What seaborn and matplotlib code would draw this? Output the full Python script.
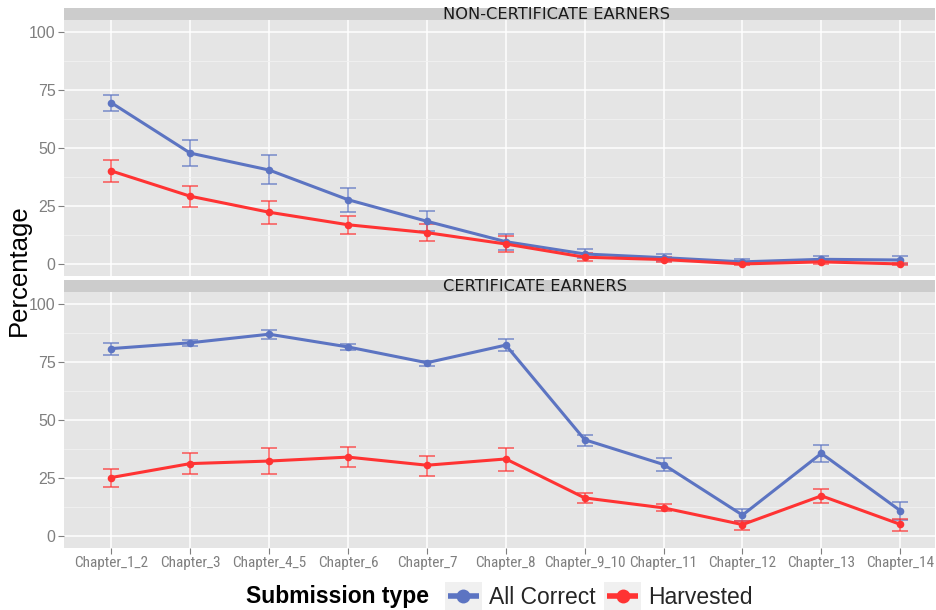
import numpy as np
import pandas as pd
import matplotlib
matplotlib.use("Agg")
import matplotlib.pyplot as plt
import seaborn as sns
from matplotlib import font_manager
from matplotlib.lines import Line2D
from matplotlib.patches import Rectangle
from matplotlib.legend_handler import HandlerBase

chapters = ["Chapter_1_2", "Chapter_3", "Chapter_4_5", "Chapter_6", "Chapter_7",
            "Chapter_8", "Chapter_9_10", "Chapter_11", "Chapter_12", "Chapter_13", "Chapter_14"]
panels = ["NON-CERTIFICATE EARNERS", "CERTIFICATE EARNERS"]
types = ["All Correct", "Harvested"]

# Non-certificate earners
non_correct = [69.5, 47.8, 40.5, 27.7, 18.4, 9.6, 4.3, 2.7, 0.9, 2.0, 1.7]
non_correct_lo = [65.8, 42.4, 34.3, 22.5, 14.1, 6.0, 2.5, 1.3, 0.0, 0.8, 0.0]
non_correct_hi = [73.0, 53.3, 46.8, 32.9, 22.7, 13.1, 6.3, 4.2, 2.2, 3.3, 3.6]
non_harv = [40.1, 29.2, 22.3, 16.9, 13.5, 8.6, 2.9, 1.9, 0.0, 0.9, 0.0]
non_harv_lo = [35.5, 24.4, 17.4, 12.8, 9.9, 5.0, 1.2, 0.9, -0.3, 0.1, -0.3]
non_harv_hi = [44.7, 33.6, 27.2, 20.8, 17.1, 11.9, 4.6, 2.9, 0.5, 1.8, 0.4]

# Certificate earners
cert_correct = [80.8, 83.3, 87.0, 81.5, 74.7, 82.3, 41.5, 30.8, 9.0, 35.6, 10.9]
cert_correct_lo = [78.1, 81.8, 85.1, 80.1, 73.4, 79.7, 38.9, 27.8, 6.5, 31.9, 6.9]
cert_correct_hi = [83.4, 84.5, 89.0, 82.8, 75.4, 84.8, 43.6, 33.8, 11.7, 39.2, 14.7]
cert_harv = [25.2, 31.2, 32.3, 34.0, 30.5, 33.2, 16.4, 12.1, 4.9, 17.3, 5.0]
cert_harv_lo = [21.2, 26.5, 26.9, 29.6, 26.0, 28.0, 14.2, 10.6, 2.4, 14.2, 2.1]
cert_harv_hi = [28.9, 35.8, 37.8, 38.3, 34.6, 38.1, 18.6, 13.9, 6.6, 20.2, 7.4]

yticks = [0, 25, 50, 75, 100]

blue = "#5C74C2"
red = "#FF3333"
palette = {"All Correct": blue, "Harvested": red}

rows = []
series = {
    (panels[0], "All Correct"): (non_correct, non_correct_lo, non_correct_hi),
    (panels[0], "Harvested"): (non_harv, non_harv_lo, non_harv_hi),
    (panels[1], "All Correct"): (cert_correct, cert_correct_lo, cert_correct_hi),
    (panels[1], "Harvested"): (cert_harv, cert_harv_lo, cert_harv_hi),
}
for (p, t), (m, lo, hi) in series.items():
    for c, a, b, d in zip(chapters, m, lo, hi):
        rows.append(dict(panel=p, type=t, chapter=c, pct=a, lo=b, hi=d))
df = pd.DataFrame(rows)

sns.set_theme(style="darkgrid")
names = {f.name for f in font_manager.fontManager.ttflist}
narrow = "Liberation Sans"
for cand in ["Liberation Sans Narrow", "Arial Narrow", "Roboto Condensed",
             "Archivo Narrow", "PT Sans Narrow", "Asap Condensed"]:
    if cand in names:
        narrow = cand
        break
plt.rcParams['font.family'] = ['Liberation Sans', 'DejaVu Sans']

W, H = 936, 610
fig = plt.figure(figsize=(W / 100, H / 100), dpi=100)

def fx(px):
    return px / W

def fy(px):
    return 1 - px / H

left, right = 64, 935
panel_px = [(20, 276, 8), (292, 548, 280)]  # top, bottom, strip top
axes = []
for i, (top, bot, stop) in enumerate(panel_px):
    ax = fig.add_axes([fx(left), fy(bot), fx(right - left), (bot - top) / H])
    axes.append(ax)
    fig.patches.append(Rectangle((fx(left), fy(top)), fx(right - left), (top - stop) / H,
                                 transform=fig.transFigure, facecolor="#CCCCCC",
                                 edgecolor="none", zorder=0))
    fig.text(fx(443), fy((top + stop) / 2 + 0.5), panels[i], ha="left",
             va="center", fontsize=11.7, family=["DejaVu Sans"], color="#1A1A1A")

for i, ax in enumerate(axes):
    sub = df[df.panel == panels[i]]
    ax.set_facecolor("#E5E5E5")
    for t in types:
        s = sub[sub.type == t]
        ax.errorbar(s.chapter, s.pct, yerr=[s.pct - s.lo, s.hi - s.pct], fmt="none",
                    ecolor=palette[t], alpha=0.8, elinewidth=1.1, capsize=5.5,
                    capthick=1.1, zorder=3)
    sns.lineplot(data=sub, x="chapter", y="pct", hue="type", hue_order=types,
                 palette=palette, marker="o", markersize=5.5, markeredgewidth=0,
                 linewidth=2.2, sort=False, legend=False, ax=ax, zorder=4)
    ax.set_xlim(-0.6, 10.44)
    ax.set_ylim(-5.2, 105.2)
    ax.set_yticks(yticks)
    ax.set_yticks([12.5, 37.5, 62.5, 87.5], minor=True)
    ax.grid(which="major", color="white", linewidth=1.1)
    ax.grid(which="minor", axis="y", color="#F2F2F2", linewidth=0.6)
    ax.set_axisbelow(True)
    for sp in ax.spines.values():
        sp.set_visible(False)
    ax.set_xlabel("")
    ax.set_ylabel("")
    ax.tick_params(axis="both", which="major", length=4, width=0.8, color="#7F7F7F",
                   labelcolor="#7F7F7F", pad=2, left=True, bottom=(i == 1))
    ax.tick_params(axis="y", which="minor", length=0)
    for lab in ax.get_yticklabels():
        lab.set_fontsize(11.5)
    if i == 0:
        ax.tick_params(axis="x", labelbottom=False, bottom=False)
    else:
        for lab in ax.get_xticklabels():
            lab.set_family([narrow, "DejaVu Sans"])
            lab.set_fontsize(11)

fig.text(fx(19), fy(270), "Percentage", rotation=90, ha="center", va="center",
         fontsize=18.5, color="black")


class KeyHandler(HandlerBase):
    def create_artists(self, legend, orig_handle, xdescent, ydescent, width, height,
                       fontsize, trans):
        x0, y0 = -xdescent, -ydescent
        rect = Rectangle((x0, y0), width, height, facecolor="#F0F0F0",
                         edgecolor="none", transform=trans)
        ym = y0 + height / 2
        col = orig_handle.get_color()
        line = Line2D([x0 + 2, x0 + width - 2], [ym, ym], color=col, linewidth=4,
                      solid_capstyle="butt", transform=trans)
        dot = Line2D([x0 + width / 2], [ym], color=col, marker="o", markersize=10,
                     markeredgewidth=0, linestyle="none", transform=trans)
        return [rect, line, dot]


# legend
fig.text(fx(429), fy(597), "Submission type", ha="right", va="center",
         fontsize=16.5, fontweight="bold", color="black")
handles = [Line2D([], [], color=palette[t]) for t in types]
leg = fig.legend(handles, types, handler_map={Line2D: KeyHandler()},
                 loc="center left", bbox_to_anchor=(fx(445), fy(596)), ncol=2,
                 frameon=False, handlelength=1.6, handleheight=1.5, handletextpad=0.3,
                 columnspacing=0.4, borderaxespad=0, borderpad=0,
                 prop={"family": ["Liberation Sans", "DejaVu Sans"], "size": 16.5})

fig.savefig("out.png", dpi=100, facecolor="white")
